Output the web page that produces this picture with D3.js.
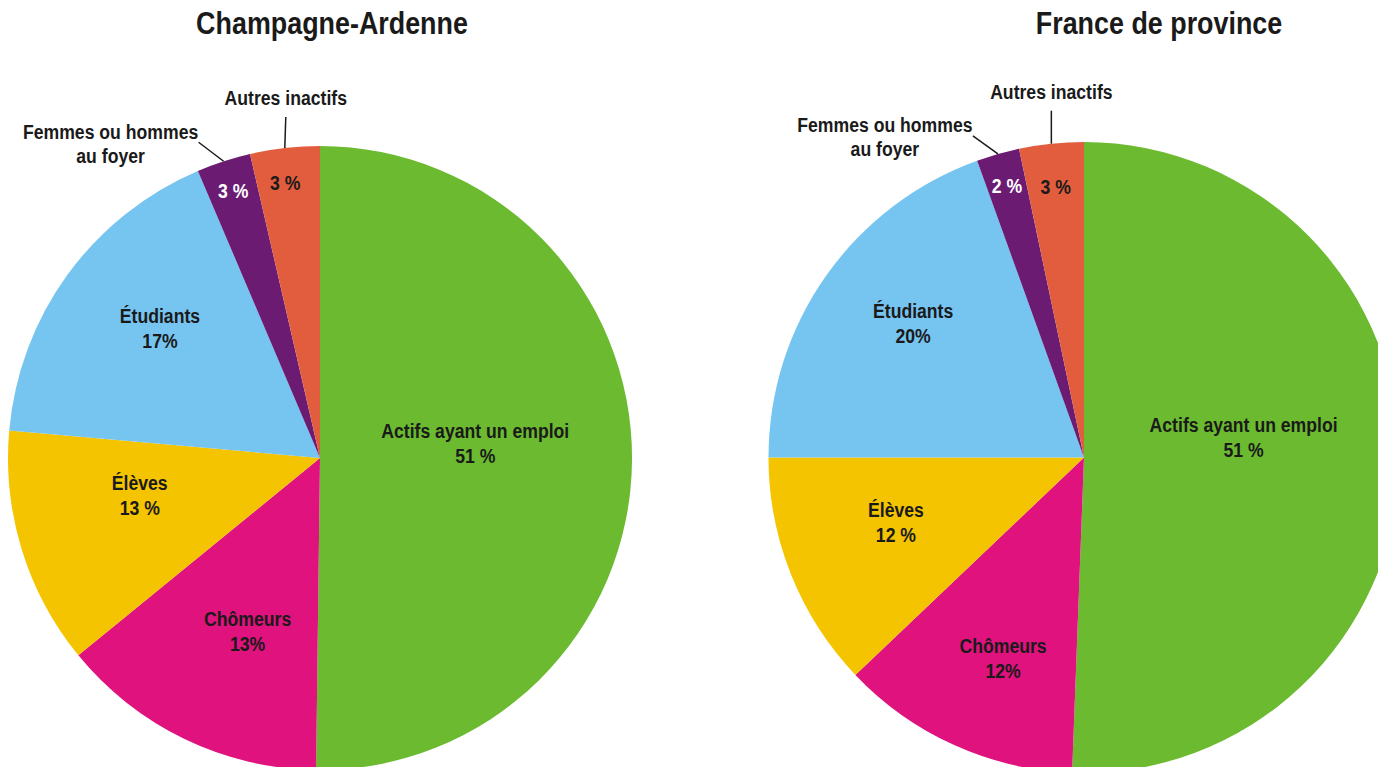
<!DOCTYPE html>
<html>
<head>
<meta charset="utf-8">
<script src="https://cdn.jsdelivr.net/npm/d3@7"></script>
<style>
  body { margin: 0; background: #fff; }
  text { font-family: "Liberation Sans", Arial, sans-serif; font-weight: bold; }
</style>
</head>
<body>
<div id="chart-area"></div>
<script>
var width = 1378, height = 767;

// Data
var categories = ["Actifs ayant un emploi", "Chômeurs", "Élèves", "Étudiants", "Femmes ou hommes au foyer", "Autres inactifs"];
var regions = ["Champagne-Ardenne", "France de province"];
// shares
var champagneValues = [50.2, 13.9, 12.3, 17.2, 2.8, 3.6];
var provinceValues = [50.6, 12.3, 12.1, 19.5, 2.2, 3.3];
// percentages as printed on the chart
var champagneLabels = ["51 %", "13%", "13 %", "17%", "3 %", "3 %"];
var provinceLabels = ["51 %", "12%", "12 %", "20%", "2 %", "3 %"];

var colors = ["#6bba2f", "#df127e", "#f5c400", "#76c4f0", "#6b1c72", "#e15d3e"];
var pctColors = ["#1a1a1a", "#1a1a1a", "#1a1a1a", "#1a1a1a", "#ffffff", "#1a1a1a"];
// category names shown inside the slice (null = outside with leader line)
var innerNames = [["Actifs ayant un emploi"], ["Chômeurs"], ["Élèves"], ["Étudiants"], null, null];
var outerNames = [null, null, null, null, ["Femmes ou hommes", "au foyer"], ["Autres inactifs"]];

// Layout for each pie
var pies = [
  { title: regions[0], values: champagneValues, labels: champagneLabels,
    cx: 320, cy: 458, r: 312, titleX: 332,
    shift: [-6, -3, 5.4, 3, 0, -0.7], rad: [0.5, 0.6, 0.59, 0.66, 0.9, 0.89],
    lead: [null, null, null, null, [-25, -19], [1, -31]] },
  { title: regions[1], values: provinceValues, labels: provinceLabels,
    cx: 1084, cy: 457.5, r: 315.5, titleX: 1159,
    shift: [-8.4, -2.3, 2.9, 3.2, 0, 0], rad: [0.51, 0.685, 0.63, 0.69, 0.895, 0.865],
    lead: [null, null, null, null, [-25, -18], [0, -33]] }
];

var fontSize = 21, lineGap = 25, capHalf = 7.5, squeeze = 0.84;

var svg = d3.select("#chart-area")
  .append("svg")
    .attr("width", width)
    .attr("height", height);

var pie = d3.pie().sort(null).value(d => d);

function polar(a, rr) {
  return [rr * Math.sin(a), -rr * Math.cos(a)];
}

// condensed bold text, like the original's narrow face
function addText(parent, x, y, str, size, fill) {
  return parent.append("text")
    .attr("transform", "translate(" + x + "," + y + ") scale(" + squeeze + ",1)")
    .attr("text-anchor", "middle")
    .attr("font-size", size + "px")
    .attr("fill", fill)
    .text(str);
}

pies.forEach(function(p) {
  // Title
  addText(svg, p.titleX, 34, p.title, 32, "#1a1a1a");

  var g = svg.append("g")
    .attr("transform", "translate(" + p.cx + "," + p.cy + ")");

  var arc = d3.arc().innerRadius(0).outerRadius(p.r);
  var arcs = pie(p.values);

  g.selectAll("path.slice")
    .data(arcs)
    .enter().append("path")
      .attr("class", "slice")
      .attr("d", arc)
      .attr("fill", (d, i) => colors[i]);

  arcs.forEach(function(d, i) {
    var mid = (d.startAngle + d.endAngle) / 2;
    var pos = polar(mid + p.shift[i] * Math.PI / 180, p.r * p.rad[i]);
    var lines = innerNames[i] ? innerNames[i].concat([p.labels[i]]) : [p.labels[i]];
    var top = pos[1] - (lines.length - 1) * lineGap / 2;
    lines.forEach(function(t, k) {
      addText(g, pos[0], top + k * lineGap + capHalf, t, fontSize,
        k === lines.length - 1 ? pctColors[i] : "#1a1a1a");
    });

    // Outside names with leader lines
    if (outerNames[i]) {
      var edge = polar(mid, p.r);
      var end = [edge[0] + p.lead[i][0], edge[1] + p.lead[i][1]];
      g.append("line")
        .attr("x1", edge[0]).attr("y1", edge[1])
        .attr("x2", end[0]).attr("y2", end[1])
        .attr("stroke", "#1a1a1a")
        .attr("stroke-width", 1.5);
      var names = outerNames[i];
      if (names.length > 1) {
        names.forEach(function(t, k) {
          addText(g, end[0] - 88, end[1] - 11 + k * 24 + capHalf, t, fontSize, "#1a1a1a");
        });
      } else {
        addText(g, end[0], end[1] - 19 + capHalf, names[0], fontSize, "#1a1a1a");
      }
    }
  });
});
</script>
</body>
</html>
